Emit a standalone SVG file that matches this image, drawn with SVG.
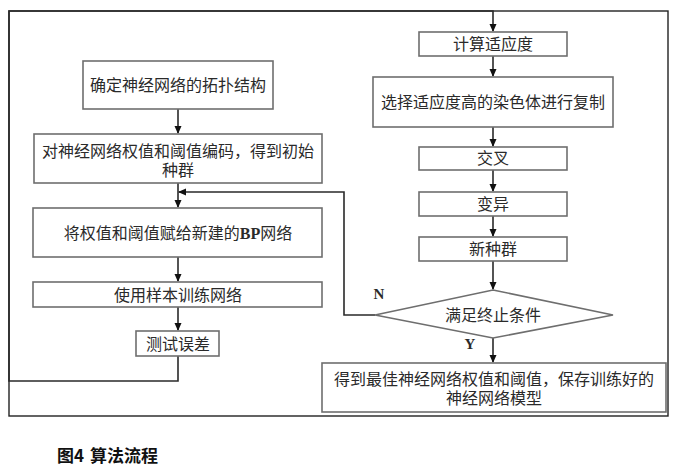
<svg xmlns="http://www.w3.org/2000/svg" width="675" height="469" viewBox="0 0 675 469">
<defs>
<marker id="ah" markerWidth="8" markerHeight="8" refX="7" refY="4" orient="auto" markerUnits="userSpaceOnUse">
<path d="M0,0.5 L8,4 L0,7.5 Z" fill="#111"/>
</marker>
<style>
.box{fill:#fff;stroke:#6e6e6e;stroke-width:1.6}
.t{font-family:"Liberation Serif","Noto Sans CJK SC",serif;font-size:16px;fill:#2a2a2a;text-anchor:middle;dominant-baseline:central}
.lbl{font-family:"Liberation Serif",serif;font-size:15px;font-weight:bold;fill:#2a2a2a;text-anchor:middle}
.c{fill:none;stroke:#2a2a2a;stroke-width:1.6}
.cap{font-family:"Noto Sans CJK SC","Noto Sans",sans-serif;font-size:17px;font-weight:bold;fill:#111}
</style>
</defs>
<rect x="0" y="0" width="675" height="469" fill="#fff"/>
<rect id="frame" x="9" y="11" width="659" height="405" fill="none" stroke="#222" stroke-width="1.4"/>
<g id="connectors">
<line class="c" x1="178" y1="109" x2="178" y2="133" marker-end="url(#ah)"/>
<line class="c" x1="178" y1="183" x2="178" y2="207" marker-end="url(#ah)"/>
<line class="c" x1="178" y1="257" x2="178" y2="281" marker-end="url(#ah)"/>
<line class="c" x1="178" y1="307" x2="178" y2="330" marker-end="url(#ah)"/>
<polyline class="c" points="178,356 178,381 9,381 9,11 493,11 493,31" marker-end="url(#ah)"/>
<line class="c" x1="493" y1="56" x2="493" y2="76" marker-end="url(#ah)"/>
<line class="c" x1="493" y1="127" x2="493" y2="146" marker-end="url(#ah)"/>
<line class="c" x1="493" y1="170" x2="493" y2="191" marker-end="url(#ah)"/>
<line class="c" x1="493" y1="216" x2="493" y2="236" marker-end="url(#ah)"/>
<line class="c" x1="493" y1="261" x2="493" y2="289" marker-end="url(#ah)"/>
<line class="c" x1="493" y1="338" x2="493" y2="362" marker-end="url(#ah)"/>
<polyline class="c" points="375,315 344,315 344,192 179,192" marker-end="url(#ah)"/>
<text class="lbl" x="379" y="299">N</text>
<text class="lbl" x="470" y="349">Y</text>
</g>
<g id="n1"><rect class="box" x="83" y="61" width="190" height="48"/><text class="t" x="178" y="85">确定神经网络的拓扑结构</text></g>
<g id="n2"><rect class="box" x="34" y="134" width="288" height="49"/><text class="t" x="178" y="151">对神经网络权值和阈值编码，得到初始</text><text class="t" x="178" y="170">种群</text></g>
<g id="n3"><rect class="box" x="33" y="208" width="289" height="49"/><text class="t" x="178" y="233">将权值和阈值赋给新建的<tspan font-weight="bold">BP</tspan>网络</text></g>
<g id="n4"><rect class="box" x="33" y="282" width="289" height="25"/><text class="t" x="178" y="295">使用样本训练网络</text></g>
<g id="n5"><rect class="box" x="136" y="331" width="83" height="25"/><text class="t" x="178" y="344">测试误差</text></g>
<g id="n6"><rect class="box" x="419" y="32" width="148" height="24"/><text class="t" x="493" y="44">计算适应度</text></g>
<g id="n7"><rect class="box" x="373" y="77" width="240" height="50"/><text class="t" x="493" y="102">选择适应度高的染色体进行复制</text></g>
<g id="n8"><rect class="box" x="419" y="147" width="148" height="23"/><text class="t" x="493" y="158">交叉</text></g>
<g id="n9"><rect class="box" x="419" y="192" width="148" height="24"/><text class="t" x="493" y="204">变异</text></g>
<g id="n10"><rect class="box" x="419" y="237" width="148" height="24"/><text class="t" x="493" y="249">新种群</text></g>
<g id="n11"><polygon class="box" points="493,290 613,315 493,338 375,315"/><text class="t" x="493" y="315">满足终止条件</text></g>
<g id="n12"><rect class="box" x="322" y="363" width="344" height="49"/><text class="t" x="494" y="379">得到最佳神经网络权值和阈值，保存训练好的</text><text class="t" x="494" y="398">神经网络模型</text></g>
<text class="cap" x="57" y="462" word-spacing="2">图4 算法流程</text>
</svg>
